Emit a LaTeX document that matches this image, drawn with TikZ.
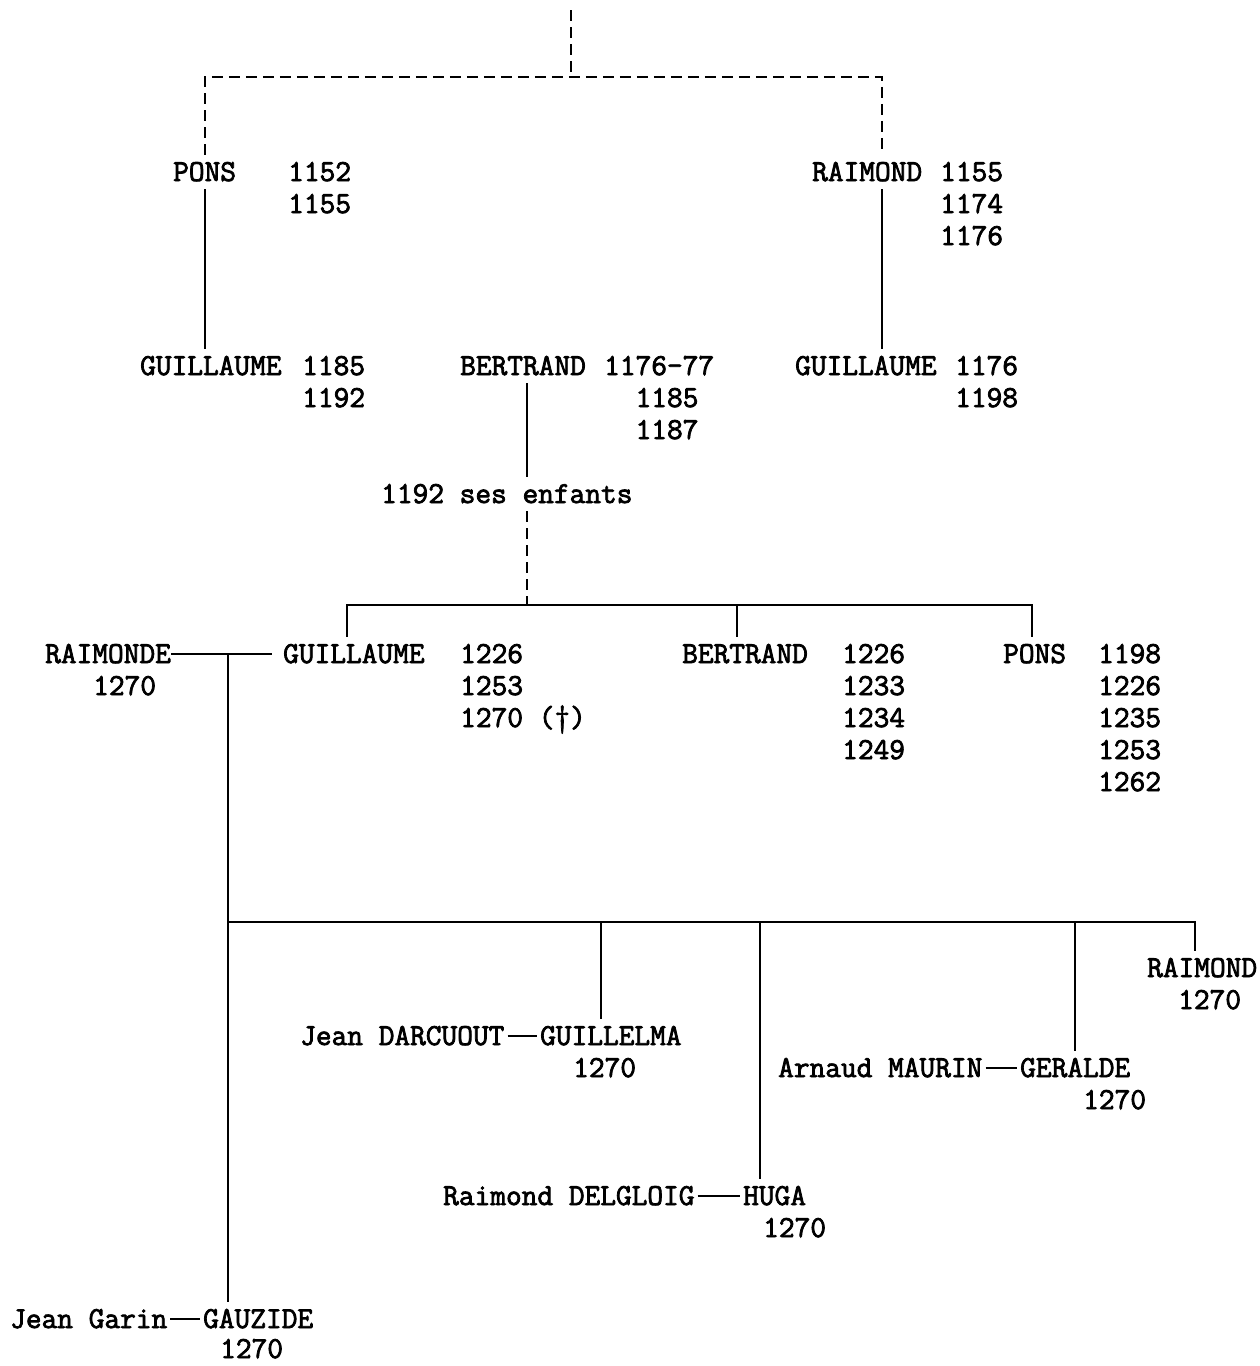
\documentclass[tikz,border=0pt]{standalone}
\usepackage{fontspec}
\setmonofont{Latin Modern Mono}[FakeBold=2.5]

\newcommand{\yearlist}[1]{\begin{tabular}[t]{@{}l@{}}#1\end{tabular}}

\tikzset{
  person/.style={inner xsep=0pt, inner ysep=8pt, text height=18pt, text depth=0pt, anchor=base west},
  years/.style={inner sep=0pt, anchor=base west},
  kin/.style={line width=2.2pt},
  kinguess/.style={kin, dash pattern=on 11pt off 6pt},
}

\begin{document}
\begin{tikzpicture}[x=1pt, y=-1pt, font=\ttfamily\fontsize{30.5}{32}\selectfont]
\useasboundingbox (0,0) rectangle (1260,1366);

% first generation
\coordinate (top) at (571,10);
\coordinate (bar1) at (571,77);
\node[person] (pons) at (173,181) {PONS};
\node[years] (ponsd) at (288,181) {\yearlist{1152\\1155}};
\node[person] (raim) at (812,181) {RAIMOND};
\node[years] (raimd) at (940,181) {\yearlist{1155\\1174\\1176}};
\coordinate (raimcol) at (882,77);

\draw[kinguess] (top) -- (bar1);
\draw[kinguess] (pons.north) |- (bar1) -- (raimcol) -- (raimcol |- raim.north);

% second generation
\node[person] (guilA) at (140,375) {GUILLAUME};
\node[years] (guilAd) at (302,375) {\yearlist{1185\\1192}};
\node[person] (bert) at (460,375) {BERTRAND};
\node[years] (bertd) at (604,375) {\yearlist{1176-77\\\hphantom{11}1185\\\hphantom{11}1187}};
\node[person] (guilB) at (795,375) {GUILLAUME};
\node[years] (guilBd) at (955,375) {\yearlist{1176\\1198}};

\draw[kin] (pons.south) -- (pons.south |- guilA.north);
\draw[kin] (raimcol |- raim.south) -- (raimcol |- guilB.north);

% ses enfants
\coordinate (bertcol) at (527,605);
\node[person] (enfants) at (381,503) {1192 ses enfants};
\draw[kin] (bertcol |- bert.south) -- (bertcol |- enfants.north);
\draw[kinguess] (bertcol |- enfants.south) -- (bertcol);

% third generation
\node[person] (raimonde) at (45,663) {RAIMONDE};
\node[years] (raimonded) at (93,695) {1270};
\node[person] (guilC) at (283,663) {GUILLAUME};
\node[years] (guilCd) at (460,663) {\yearlist{1226\\1253\\1270 (†)}};
\node[person] (bertC) at (682,663) {BERTRAND};
\node[years] (bertCd) at (842,663) {\yearlist{1226\\1233\\1234\\1249}};
\node[person] (ponsC) at (1003,663) {PONS};
\node[years] (ponsCd) at (1098,663) {\yearlist{1198\\1226\\1235\\1253\\1262}};

\coordinate (sib1) at (347,605);
\coordinate (sib2) at (737,605);
\coordinate (sib3) at (1032,605);
\draw[kin] (sib1 |- guilC.north) -- (sib1) -- (sib3) -- (sib3 |- ponsC.north);
\draw[kin] (sib2) -- (sib2 |- bertC.north);

\coordinate (union) at (228,922);
\draw[kin, shorten >=11pt] (raimonde.east) -- (guilC.west);

% fourth generation
\node[person] (raim4) at (1147,977) {RAIMOND};
\node[years] (raim4d) at (1178,1009) {1270};
\node[person] (darcuout) at (300,1045) {Jean DARCUOUT};
\node[person] (guillelma) at (540,1045) {GUILLELMA};
\node[years] (guillelmad) at (573,1077) {1270};
\node[person] (maurin) at (778,1077) {Arnaud MAURIN};
\node[person] (geralde) at (1020,1077) {GERALDE};
\node[years] (geralded) at (1083,1109) {1270};
\node[person] (delgloig) at (443,1205) {Raimond DELGLOIG};
\node[person] (huga) at (743,1205) {HUGA};
\node[years] (hugad) at (763,1237) {1270};
\node[person] (garin) at (10,1328) {Jean Garin};
\node[person] (gauzide) at (203,1328) {GAUZIDE};
\node[years] (gauzided) at (220,1358) {1270};

\coordinate (d1) at (601,922);
\coordinate (d2) at (760,922);
\coordinate (d3) at (1075,922);
\coordinate (d4) at (1195,922);
\draw[kin] (union |- raimonde.east) -- (union |- gauzide.north);
\draw[kin] (union) -- (d4) -- (d4 |- raim4.north);
\draw[kin] (d1) -- (d1 |- guillelma.north);
\draw[kin] (d2) -- (d2 |- huga.north);
\draw[kin] (d3) -- (d3 |- geralde.north);

\draw[kin, shorten <=3pt, shorten >=3pt] (darcuout.east) -- (guillelma.west);
\draw[kin, shorten <=3pt, shorten >=3pt] (maurin.east) -- (geralde.west);
\draw[kin, shorten <=3pt, shorten >=3pt] (delgloig.east) -- (huga.west);
\draw[kin, shorten <=3pt, shorten >=3pt] (garin.east) -- (gauzide.west);

\end{tikzpicture}
\end{document}
